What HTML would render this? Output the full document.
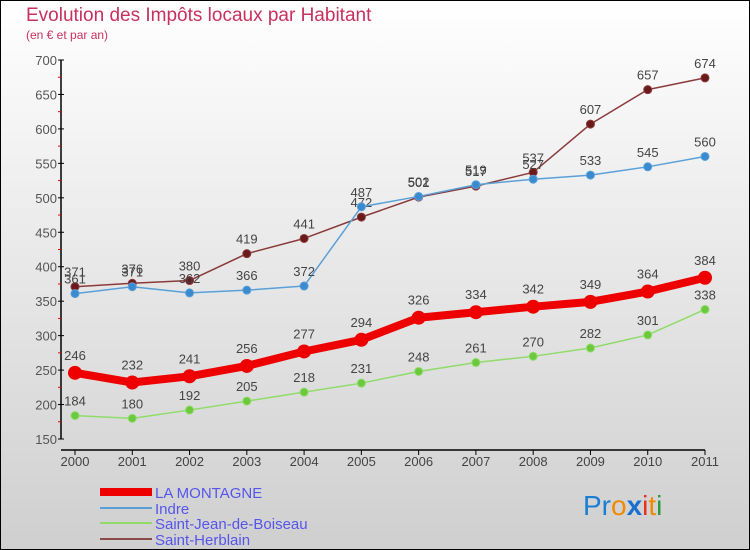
<!DOCTYPE html>
<html><head><meta charset="utf-8"><style>
body{margin:0;width:750px;height:550px;overflow:hidden}
svg{display:block;font-family:"Liberation Sans","DejaVu Sans",sans-serif}
</style></head><body>
<svg id="c" width="750" height="550" viewBox="0 0 750 550">
<defs><linearGradient id="bg" x1="0" y1="0" x2="0" y2="1"><stop offset="0" stop-color="#ffffff"/><stop offset="1" stop-color="#cfcfcf"/></linearGradient></defs>
<rect x="0.5" y="0.5" width="749" height="549" fill="url(#bg)" stroke="#000"/>
<text x="26" y="21" font-size="19" fill="#c8305f">Evolution des Impôts locaux par Habitant</text>
<text x="26" y="39" font-size="12" fill="#c8305f">(en € et par an)</text>
<g id="axes"></g><g id="series"></g>
<g>
<line x1="100" y1="492" x2="152" y2="492" stroke="#e00" stroke-width="8"/>
<text x="155" y="498" font-size="15" fill="#5555ee">LA MONTAGNE</text>
<line x1="100" y1="508" x2="152" y2="508" stroke="#5aa0d8" stroke-width="2"/>
<text x="155" y="514" font-size="15" fill="#5555ee">Indre</text>
<line x1="100" y1="523" x2="152" y2="523" stroke="#8fdc6a" stroke-width="2"/>
<text x="155" y="529" font-size="15" fill="#5555ee">Saint-Jean-de-Boiseau</text>
<line x1="100" y1="539" x2="152" y2="539" stroke="#8b4a4a" stroke-width="2"/>
<text x="155" y="545" font-size="15" fill="#5555ee">Saint-Herblain</text>
</g>
<g font-size="28">
<text x="583" y="515"><tspan fill="#1a7fd4">Pr</tspan><tspan fill="#f08a00">o</tspan><tspan fill="#1a6fd0" font-weight="bold">x</tspan><tspan fill="#e8301c">i</tspan><tspan fill="#f08a00">t</tspan><tspan fill="#2a9a3a">i</tspan></text>
</g>
</svg>
<script>
const years=[2000,2001,2002,2003,2004,2005,2006,2007,2008,2009,2010,2011];
const yTicks=[150,200,250,300,350,400,450,500,550,600,650,700];
const laMontagne=[246,232,241,256,277,294,326,334,342,349,364,384];
const indre=[361,371,362,366,372,487,502,519,527,533,545,560];
const saintJean=[184,180,192,205,218,231,248,261,270,282,301,338];
const saintHerblain=[371,376,380,419,441,472,501,517,537,607,657,674];
const NS="http://www.w3.org/2000/svg";
const X=y=>75+(y-2000)*(630/11);
const Y=v=>439-(v-150)*(379/550);
function mk(t,a,p){const e=document.createElementNS(NS,t);for(const k in a)e.setAttribute(k,a[k]);p.appendChild(e);return e;}
const ax=document.getElementById('axes');
let l=mk('line',{x1:61,y1:60,x2:61,y2:439,stroke:'#000','stroke-width':1.5},ax);


l=mk('line',{x1:61,y1:450,x2:705,y2:450,stroke:'#000','stroke-width':1.5},ax);


yTicks.forEach((v,i)=>{
 const t=mk('line',{x1:58,y1:Y(v),x2:64,y2:Y(v),stroke:'#000'},ax);
 
 
 const tx=mk('text',{x:57,y:Y(v)+5,'text-anchor':'end','font-size':13,fill:'#555'},ax);tx.textContent=v;
 
 
 if(i<yTicks.length-1){const m=mk('line',{x1:58,y1:Y(v+25),x2:61,y2:Y(v+25),stroke:'#e00'},ax);
 
 }
});
years.forEach(y=>{
 const t=mk('line',{x1:X(y),y1:450,x2:X(y),y2:455,stroke:'#000'},ax);
 
 
 const tx=mk('text',{x:X(y),y:466,'text-anchor':'middle','font-size':13,fill:'#444'},ax);tx.textContent=y;
 
 
});
const sg=document.getElementById('series');
function draw(data,name,color,dot,w,r,fs){
 const g=mk('g',{},sg);
 
 
 const pl=mk('polyline',{points:data.map((v,i)=>X(years[i])+','+Y(v)).join(' '),fill:'none',stroke:color,'stroke-width':w,'stroke-linejoin':'round'},g);
 
 
 data.forEach((v,i)=>{
  const c=mk('circle',{cx:X(years[i]),cy:Y(v),r:r,fill:dot,stroke:color==dot?'none':color,'stroke-width':1},g);
  
  
  const t=mk('text',{x:X(years[i]),y:Y(v)-(r+6),'text-anchor':'middle','font-size':fs,fill:'#444'},g);t.textContent=v;
  
  
 });
}
draw(saintHerblain,'saint-herblain','#8b3a3a','#6a1a1a',1.5,4,13);
draw(indre,'indre','#5aa0d8','#3a8ad0',1.5,4,13);
draw(saintJean,'saint-jean-de-boiseau','#8fdc6a','#6cc83c',1.5,4,13);
draw(laMontagne,'la-montagne','#ee0000','#ee0000',8,7,13);
</script>
</body></html>
